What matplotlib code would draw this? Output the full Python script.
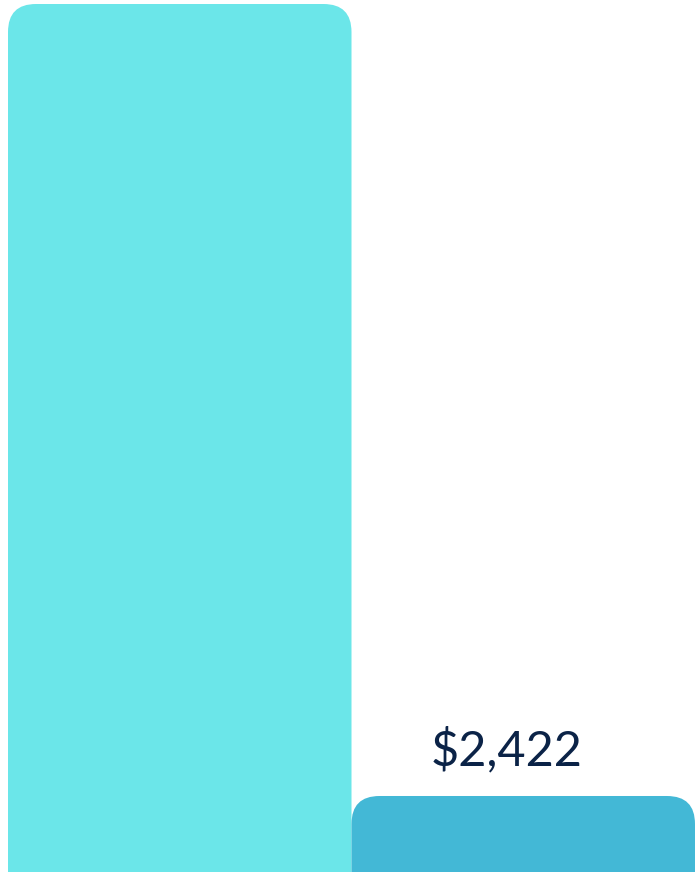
import matplotlib.pyplot as plt
from matplotlib.patches import FancyBboxPatch

# 两根柱子的数值（左边柱子没有标注，按高度比例估算）
categories = ['A', 'B']
values = [27660, 2422]
colors = ['#6BE6E9', '#43B8D6']
labels = ['', '$2,422']

fig = plt.figure(figsize=(6.97, 8.77), dpi=100)
ax = fig.add_axes([8 / 697, 5 / 877, 687 / 697, 868 / 877])
ax.set_xlim(-0.5, len(values) - 0.5)
ax.set_ylim(0, max(values))
ax.axis('off')

# 圆角半径（像素）换算成数据单位
ax_w_px = 687
ax_h_px = 868
radius_px = 28
rx = radius_px * (len(values)) / ax_w_px
ry = radius_px * max(values) / ax_h_px

for i, (v, c) in enumerate(zip(values, colors)):
    # 底部向下延伸，被坐标轴裁掉，只留上面两个圆角
    patch = FancyBboxPatch((i - 0.5, -ry * 3), 1.0, v + ry * 3,
                           boxstyle=f'round,pad=0,rounding_size={rx}',
                           mutation_aspect=ry / rx,
                           facecolor=c, edgecolor='none', clip_on=True)
    ax.add_patch(patch)
    if labels[i]:
        ax.annotate(labels[i], (i, v), xytext=(-12, 16), textcoords='offset points',
                    ha='center', va='bottom', fontsize=35, color='#0B2347',
                    family=['Lato', 'DejaVu Sans'])

plt.savefig('out.png', dpi=100)
